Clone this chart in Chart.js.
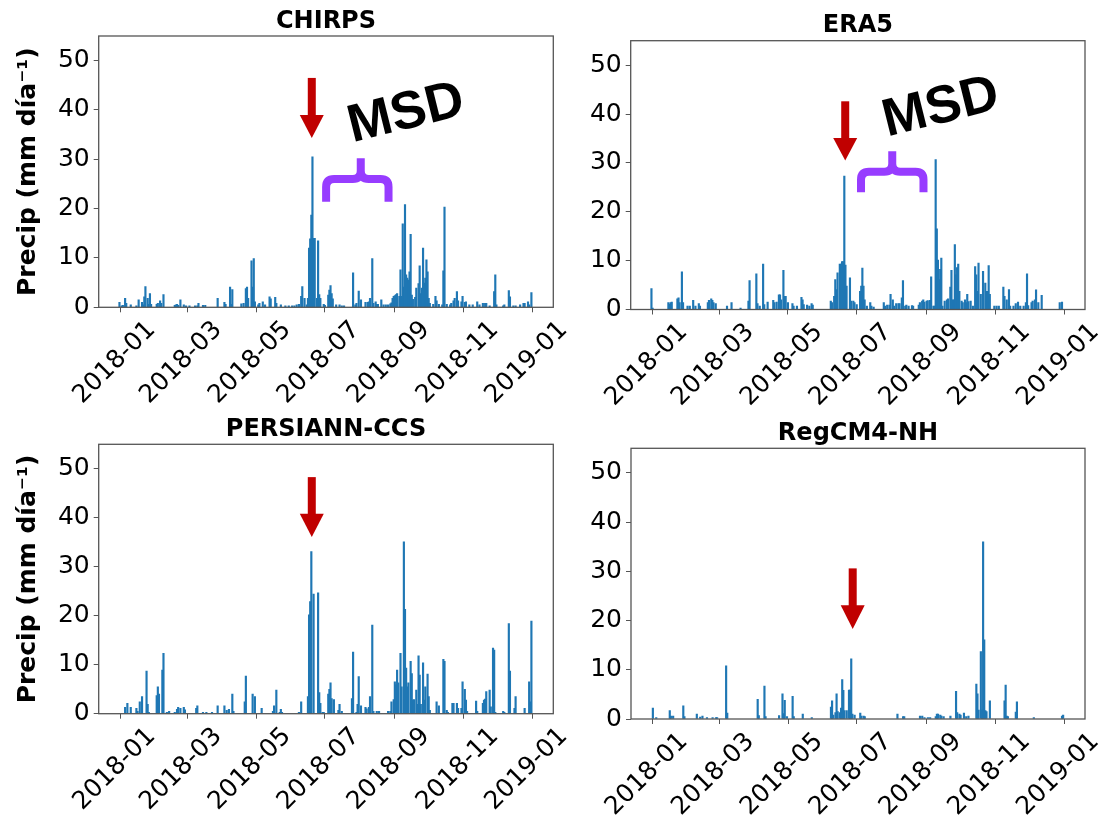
<!DOCTYPE html>
<html>
<head>
<meta charset="utf-8">
<title>Precipitación diaria 2018</title>
<script src="https://cdn.jsdelivr.net/npm/chart.js@4.4.1/dist/chart.umd.min.js"></script>
<style>
  html, body { margin: 0; padding: 0; background: #fff; }
  #wrap { position: relative; width: 1110px; height: 820px; }
  #wrap canvas { position: absolute; left: 0; top: 0; }
</style>
</head>
<body>
<div id="wrap">
  <canvas id="chirps" width="1110" height="820"></canvas>
  <canvas id="era5" width="1110" height="820"></canvas>
  <canvas id="persiann" width="1110" height="820"></canvas>
  <canvas id="regcm" width="1110" height="820"></canvas>
</div>
<script>
// x values are days counted from 2018-01-01 (day 0)
const tickDays = [0, 59, 120, 181, 243, 304, 365];
const tickLabels = ['2018-01', '2018-03', '2018-05', '2018-07', '2018-09', '2018-11', '2019-01'];
const precipTicks = [0, 10, 20, 30, 40, 50];

// daily precipitation (mm/day), only rainy days are listed
const chirpsDays = [-1, 1, 2, 4, 5, 9, 14, 16, 19, 20, 21, 22, 24, 25, 26, 27, 32, 33, 35, 36, 38,
  48, 49, 50, 51, 53, 56, 58, 61, 66, 68, 69, 73, 75, 86, 92, 93, 97, 98, 99,
  107, 109, 111, 112, 113, 116, 117, 118, 119, 122, 123, 126, 128, 132, 133, 137, 138,
  142, 146, 149, 152, 154, 156, 158, 160, 161, 163, 165, 166, 167, 168, 169, 170, 171, 172,
  174, 175, 176, 177, 180, 181, 184, 185, 186, 187, 188, 191, 194, 196, 198,
  206, 208, 209, 211, 213, 217, 219, 220, 221, 223, 224, 226, 227, 228, 231, 233, 235, 237,
  239, 240, 241, 242, 243, 244, 245, 247, 248, 249, 250, 251, 252, 253, 254, 255, 256, 257,
  258, 259, 261, 262, 264, 265, 266, 267, 268, 269, 270, 271, 272, 273, 274, 277, 279, 280,
  282, 285, 286, 287, 289, 292, 293, 295, 296, 298, 299, 302, 303, 305, 306, 309, 312,
  316, 318, 321, 323, 324, 327, 331, 332, 333, 339, 340, 344, 345, 348, 350, 354, 357,
  358, 361, 362, 364];
const chirpsPrecip = [1.0, 0.3, 0.4, 1.8, 0.8, 0.5, 0.3, 1.5, 1.0, 0.5, 2.1, 4.2, 1.8, 0.6, 2.8, 0.6, 0.6, 0.8, 1.3, 0.8, 2.6,
  0.4, 0.5, 0.6, 0.4, 1.5, 0.5, 0.3, 0.3, 0.3, 0.3, 0.8, 0.4, 0.4, 1.8, 1.0, 0.6, 4.1, 0.6, 3.6,
  0.7, 0.8, 3.8, 4.1, 1.8, 9.4, 4.1, 9.9, 1.1, 0.5, 0.8, 1.1, 0.5, 2.1, 1.7, 2.0, 0.8,
  0.5, 0.3, 0.3, 0.3, 0.3, 0.5, 0.6, 2.2, 4.2, 1.8, 0.5, 1.8, 12.0, 13.9, 18.7, 30.5, 14.0, 14.0,
  1.8, 13.5, 2.6, 1.8, 0.6, 0.4, 2.5, 3.5, 4.4, 2.8, 1.7, 0.5, 0.5, 0.3, 0.3,
  7.0, 0.5, 0.8, 3.3, 1.5, 1.0, 1.0, 1.1, 1.8, 9.9, 0.8, 1.1, 0.6, 0.6, 1.5, 0.5, 0.5, 0.5,
  0.7, 0.9, 1.8, 2.2, 2.4, 2.6, 2.8, 2.2, 7.6, 2.2, 16.9, 4.1, 20.8, 6.6, 5.9, 5.5, 7.2, 14.8,
  2.5, 1.6, 2.0, 3.9, 4.8, 8.4, 2.8, 3.9, 12.0, 4.9, 5.9, 9.6, 7.2, 1.8, 0.8, 0.6, 2.2, 1.3,
  0.6, 0.5, 7.4, 20.3, 0.6, 0.5, 0.8, 1.3, 1.8, 3.2, 1.3, 1.1, 2.2, 1.0, 1.1, 0.5, 0.5,
  1.1, 0.5, 0.8, 0.8, 0.8, 0.3, 3.2, 6.6, 0.5, 0.3, 0.5, 3.4, 2.1, 0.3, 0.3, 0.5, 0.8,
  0.8, 1.1, 0.5, 3.0];

const era5Days = [-1, 0, 14, 15, 16, 17, 22, 23, 24, 26, 27, 31, 33, 36, 38, 41, 42, 49, 50, 52, 53, 54, 56,
  66, 70, 78, 85, 86, 92, 93, 95, 98, 99, 102, 107, 108, 110, 112, 113, 114, 116, 117, 118, 120,
  124, 125, 128, 132, 133, 134, 137, 139, 141, 142, 158, 159, 161, 162, 163, 164, 166, 167, 168,
  169, 170, 171, 172, 175, 176, 178, 179, 181, 184, 185, 186, 187, 188, 190, 193, 194, 196,
  205, 206, 208, 210, 211, 213, 214, 216, 218, 219, 221, 222, 224, 225, 227, 230, 231, 236,
  237, 239, 240, 241, 243, 244, 246, 247, 249, 250, 251, 252, 253, 254, 255, 256, 257, 259,
  261, 262, 264, 265, 266, 267, 268, 269, 270, 271, 272, 274, 275, 277, 278, 279, 280, 282,
  284, 286, 287, 288, 289, 291, 293, 295, 296, 297, 298, 299, 303, 305, 307, 311, 312, 314,
  316, 317, 320, 322, 324, 326, 329, 331, 332, 333, 336, 337, 339, 340, 342, 345, 361, 363];
const era5Precip = [4.3, 0.3, 1.4, 1.1, 1.4, 1.5, 2.2, 2.4, 1.4, 7.7, 1.4, 0.7, 0.7, 1.9, 0.7, 1.2, 0.7, 1.4, 1.9, 2.2, 1.9, 1.4, 1.2,
  0.7, 1.4, 0.3, 1.7, 5.9, 7.3, 1.2, 0.7, 9.3, 1.0, 1.5, 1.9, 1.4, 1.5, 3.0, 3.0, 2.0, 8.0, 2.7, 2.7, 1.4,
  1.2, 0.7, 0.7, 2.5, 2.0, 1.0, 0.9, 0.7, 1.2, 0.9, 1.7, 1.4, 2.7, 6.1, 4.1, 7.5, 9.3, 9.3, 9.8,
  9.8, 27.3, 9.1, 4.8, 6.5, 1.7, 1.7, 1.4, 1.0, 3.7, 4.8, 8.5, 4.8, 2.0, 0.7, 1.4, 0.7, 0.5,
  1.4, 0.7, 0.9, 0.9, 3.1, 2.0, 0.7, 1.2, 1.2, 1.2, 2.4, 5.9, 0.7, 0.9, 0.7, 0.8, 0.7, 0.9,
  1.4, 1.7, 2.0, 1.5, 1.7, 1.8, 1.9, 6.7, 0.7, 0.7, 30.7, 16.5, 10.1, 6.1, 8.2, 10.5, 0.7, 1.7,
  2.0, 2.2, 4.6, 8.0, 2.0, 2.0, 13.3, 7.1, 8.6, 9.3, 3.7, 1.7, 1.4, 2.0, 1.4, 3.1, 1.6, 1.7,
  0.7, 8.8, 7.1, 3.7, 9.5, 3.1, 7.8, 5.4, 3.7, 3.7, 9.0, 3.1, 0.7, 0.7, 0.7, 4.6, 2.7, 2.0,
  4.1, 0.7, 0.7, 1.2, 1.5, 0.7, 0.7, 1.4, 7.3, 0.8, 1.4, 1.7, 2.0, 4.0, 1.4, 2.9, 1.4, 1.5];

const persiannDays = [4, 6, 9, 14, 15, 17, 19, 23, 24, 25, 32, 33, 34, 37, 38, 41, 43, 48, 50, 51, 53, 56, 57,
  67, 68, 73, 76, 81, 86, 92, 94, 96, 99, 100, 110, 111, 117, 119, 125, 135, 136, 138, 141, 142, 143,
  158, 160, 166, 167, 168, 169, 171, 175, 176, 177, 179, 180, 184, 185, 186, 187, 189, 193, 194, 196,
  205, 206, 209, 210, 211, 213, 217, 218, 220, 221, 223, 224, 227, 229, 237, 239, 240, 242, 243, 244,
  245, 246, 248, 249, 251, 252, 253, 254, 255, 257, 258, 259, 260, 262, 263, 264, 265, 266, 268, 269,
  270, 272, 273, 274, 280, 282, 286, 287, 289, 290, 294, 295, 298, 299, 302, 303, 305, 306, 307,
  315, 316, 321, 322, 323, 324, 327, 328, 330, 331, 332, 339, 340, 344, 345, 349, 350, 358, 362, 363, 364];
const persiannPrecip = [1.3, 2.1, 1.3, 1.1, 0.5, 2.4, 3.5, 8.7, 1.9, 0.3, 3.7, 5.5, 4.0, 8.9, 12.3, 0.3, 0.5, 0.3, 0.9, 1.3, 1.1, 1.3, 0.8,
  1.1, 1.6, 0.3, 0.3, 0.3, 1.6, 1.6, 0.7, 0.9, 4.0, 0.5, 2.4, 7.7, 4.0, 3.5, 1.1, 0.5, 1.6, 4.8, 0.3, 0.9, 0.3,
  0.3, 2.4, 3.5, 20.2, 22.9, 33.1, 24.4, 24.7, 4.3, 2.1, 0.3, 0.3, 4.0, 5.0, 6.3, 3.1, 2.9, 0.7, 1.9, 0.5,
  3.1, 12.6, 0.3, 1.9, 7.6, 1.6, 1.3, 1.0, 1.3, 3.5, 18.1, 0.5, 0.5, 0.5, 0.5, 0.5, 2.4, 2.9, 6.5, 5.9,
  8.9, 6.3, 12.3, 5.5, 35.1, 21.3, 9.3, 5.5, 6.3, 10.7, 8.2, 2.8, 2.9, 4.8, 1.9, 11.8, 7.9, 1.9, 10.4, 2.8,
  5.5, 8.1, 3.5, 0.7, 2.4, 1.6, 11.1, 10.7, 0.7, 0.3, 2.1, 2.1, 2.1, 1.1, 1.1, 6.5, 5.0, 2.8, 0.5,
  2.6, 0.5, 2.1, 2.8, 3.0, 4.5, 4.8, 1.4, 13.4, 13.0, 0.3, 0.5, 0.3, 18.4, 8.7, 1.1, 3.5, 1.1, 6.5, 2.4, 18.9];

const regcmDays = [0, 3, 15, 16, 18, 27, 28, 39, 42, 44, 48, 53, 56, 57, 65, 66, 93, 94, 99, 100,
  112, 115, 116, 117, 119, 124, 125, 133, 141, 158, 159, 160, 162, 163, 164, 166, 167, 168, 169,
  170, 172, 174, 175, 176, 177, 179, 184, 185, 187, 188, 217, 222, 223, 237, 239, 241, 244, 246,
  251, 252, 253, 255, 256, 258, 264, 269, 270, 272, 273, 276, 278, 280, 287, 288, 289, 291, 292,
  293, 294, 295, 296, 299, 312, 313, 314, 315, 322, 323, 338, 363, 364];
const regcmPrecip = [2.2, 0.3, 1.7, 0.6, 0.6, 2.7, 0.5, 1.0, 0.4, 0.6, 0.3, 0.3, 0.3, 0.3, 10.8, 1.2, 4.0, 0.7, 6.7, 0.5,
  0.7, 5.1, 1.1, 3.8, 0.5, 4.6, 0.5, 1.0, 0.3, 2.4, 3.7, 0.8, 1.3, 5.1, 1.5, 1.3, 2.2, 8.0, 5.8,
  1.7, 1.7, 5.9, 5.9, 12.2, 1.0, 0.8, 1.2, 0.6, 0.6, 0.5, 1.0, 0.5, 0.5, 0.6, 0.6, 0.3, 0.3, 0.3,
  0.5, 1.0, 1.0, 0.8, 0.6, 0.5, 0.6, 5.6, 1.3, 1.0, 0.8, 1.2, 0.5, 0.6, 7.1, 5.1, 1.8, 13.7, 1.8,
  36.0, 16.1, 1.7, 1.5, 3.7, 3.7, 6.9, 0.6, 0.5, 1.4, 3.5, 0.3, 0.6, 0.8];

const BAR_BLUE = '#1f77b4';
const FRAME_GREY = '#555555';
const ARROW_RED = '#c00000';
const BRACE_PURPLE = '#973cff';
const TEXT_FONT = 'DejaVu Sans';
const Y_AXIS_W = 88;
const X_AXIS_H = 100;
const X_MIN = -19.4;
const X_MAX = 383.4;

Chart.defaults.font.family = TEXT_FONT;
Chart.defaults.color = '#000';

// frame around the plot area plus the panel title above it
const framePlugin = {
  id: 'panelFrame',
  afterDraw(chart, args, opts) {
    const { ctx, chartArea: a } = chart;
    ctx.save();
    ctx.strokeStyle = FRAME_GREY;
    ctx.lineWidth = 1.3;
    ctx.strokeRect(a.left, a.top, a.right - a.left, a.bottom - a.top);
    ctx.fillStyle = '#000';
    ctx.font = 'bold 24px "' + TEXT_FONT + '"';
    ctx.textAlign = 'center';
    ctx.textBaseline = 'alphabetic';
    ctx.fillText(opts.title, (a.left + a.right) / 2, a.top - 8.5);
    ctx.restore();
  }
};

function drawArrow(ctx, x, yTop, yBase, yTip) {
  ctx.fillStyle = ARROW_RED;
  ctx.fillRect(x - 4, yTop, 8, yBase - yTop + 1);
  ctx.beginPath();
  ctx.moveTo(x - 12, yBase);
  ctx.lineTo(x + 12, yBase);
  ctx.lineTo(x, yTip);
  ctx.closePath();
  ctx.fill();
}

function drawBrace(ctx, xl, xm, xr, yLeg, yBar, yStem) {
  const r = 8;
  ctx.strokeStyle = BRACE_PURPLE;
  ctx.lineWidth = 8;
  ctx.lineCap = 'butt';
  ctx.lineJoin = 'round';
  ctx.beginPath();
  ctx.moveTo(xl, yLeg);
  ctx.lineTo(xl, yBar + r);
  ctx.quadraticCurveTo(xl, yBar, xl + r, yBar);
  ctx.lineTo(xm - r, yBar);
  ctx.quadraticCurveTo(xm, yBar, xm, yBar - r);
  ctx.lineTo(xm, yStem);
  ctx.moveTo(xm, yBar - r);
  ctx.quadraticCurveTo(xm, yBar, xm + r, yBar);
  ctx.lineTo(xr - r, yBar);
  ctx.quadraticCurveTo(xr, yBar, xr, yBar + r);
  ctx.lineTo(xr, yLeg);
  ctx.stroke();
}

// arrows, braces and the MSD label, placed in day / mm units
const notesPlugin = {
  id: 'notes',
  afterDraw(chart, args, opts) {
    const { ctx } = chart;
    const xs = chart.scales.x, ys = chart.scales.y;
    const px = v => xs.getPixelForValue(v), py = v => ys.getPixelForValue(v);
    ctx.save();
    if (opts.arrow) {
      const a = opts.arrow;
      drawArrow(ctx, px(a.day), py(a.top), py(a.base), py(a.tip));
    }
    if (opts.brace) {
      const b = opts.brace;
      drawBrace(ctx, px(b.from), px(b.mid), px(b.to), py(b.leg), py(b.bar), py(b.stem));
    }
    if (opts.label) {
      const l = opts.label;
      ctx.translate(px(l.day), py(l.y));
      ctx.rotate(-14 * Math.PI / 180);
      ctx.fillStyle = '#000';
      ctx.font = 'bold 53px "Liberation Sans"';
      ctx.textAlign = 'center';
      ctx.textBaseline = 'middle';
      ctx.fillText(l.text, 0, 0);
    }
    ctx.restore();
  }
};

function makePanel(id, title, days, precip, area, yTitle, notes) {
  const points = days.map((d, i) => ({ x: d, y: precip[i] }));
  return new Chart(document.getElementById(id), {
    type: 'bar',
    data: {
      datasets: [{
        data: points,
        backgroundColor: BAR_BLUE,
        borderWidth: 0,
        barThickness: 1.5
      }]
    },
    options: {
      responsive: false,
      animation: false,
      events: [],
      layout: {
        padding: {
          left: area.left - Y_AXIS_W,
          top: area.top,
          right: 1110 - area.right,
          bottom: 820 - area.bottom - X_AXIS_H
        }
      },
      plugins: {
        legend: { display: false },
        tooltip: { enabled: false },
        panelFrame: { title: title },
        notes: notes
      },
      scales: {
        x: {
          type: 'linear',
          min: X_MIN,
          max: X_MAX,
          offset: false,
          grid: { display: true, drawOnChartArea: false, drawTicks: true, tickLength: 5, color: FRAME_GREY, offset: false },
          border: { display: false },
          ticks: {
            autoSkip: false,
            minRotation: 45,
            maxRotation: 45,
            padding: 3,
            labelOffset: 31,
            color: '#000',
            font: { size: 25 },
            callback: (v, i) => tickLabels[i]
          },
          afterBuildTicks: s => { s.ticks = tickDays.map(v => ({ value: v })); },
          afterFit: s => { s.height = X_AXIS_H; }
        },
        y: {
          min: 0,
          max: 55,
          grid: { display: true, drawOnChartArea: false, drawTicks: true, tickLength: 5, color: FRAME_GREY },
          border: { display: false },
          ticks: { padding: 4, color: '#000', font: { size: 25 } },
          afterBuildTicks: s => { s.ticks = precipTicks.map(v => ({ value: v })); },
          afterFit: s => { s.width = Y_AXIS_W; },
          title: {
            display: yTitle,
            text: 'Precip (mm día⁻¹)',
            color: '#000',
            font: { size: 25, weight: 'bold' },
            padding: { top: 3, bottom: 4 }
          }
        }
      }
    },
    plugins: [framePlugin, notesPlugin]
  });
}

makePanel('chirps', 'CHIRPS', chirpsDays, chirpsPrecip,
  { left: 98.7, top: 36, right: 553.3, bottom: 307.3 }, true, {
    arrow: { day: 169.4, top: 46.5, base: 39, tip: 34.3 },
    brace: { from: 182.1, mid: 212.8, to: 237.4, leg: 21.4, bar: 26.0, stem: 30.2 },
    label: { day: 253, y: 39.2, text: 'MSD' }
  });

makePanel('era5', 'ERA5', era5Days, era5Precip,
  { left: 630.7, top: 40.7, right: 1085, bottom: 309.5 }, false, {
    arrow: { day: 170.8, top: 42.6, base: 35.1, tip: 30.5 },
    brace: { from: 184.8, mid: 212.5, to: 240.2, leg: 24.0, bar: 28.2, stem: 32.4 },
    label: { day: 255.7, y: 41.2, text: 'MSD' }
  });

makePanel('persiann', 'PERSIANN-CCS', persiannDays, persiannPrecip,
  { left: 98.7, top: 444.3, right: 553.3, bottom: 713.7 }, true, {
    arrow: { day: 169.4, top: 48.3, base: 40.8, tip: 36.1 }
  });

makePanel('regcm', 'RegCM4-NH', regcmDays, regcmPrecip,
  { left: 631, top: 448.3, right: 1085, bottom: 719 }, false, {
    arrow: { day: 177.3, top: 30.6, base: 23.1, tip: 18.3 }
  });
</script>
</body>
</html>
